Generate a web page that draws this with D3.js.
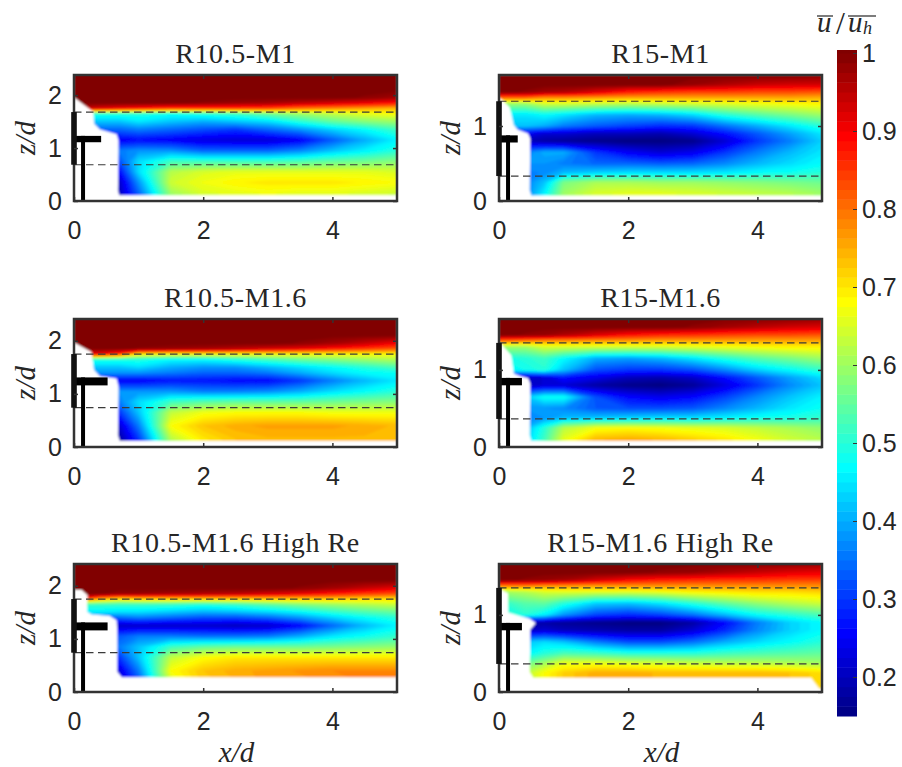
<!DOCTYPE html>
<html>
<head>
<meta charset="utf-8">
<script src="https://cdnjs.cloudflare.com/ajax/libs/d3/7.8.5/d3.min.js"></script>
<style>
    html, body { margin: 0; padding: 0; background: #fff; }
    svg { display: block; }
    text { fill: #262626; }
    .num { font-family: "Liberation Sans", Arial, sans-serif; font-size: 25px; }
    .title { font-family: "Liberation Serif", serif; font-size: 28px; letter-spacing: 0.6px; }
    .lab { font-family: "Liberation Serif", serif; font-style: italic; font-size: 29px; }
</style>
</head>
<body>
<svg id="chart" width="902" height="767"></svg>
<script>
//-------------------
// DATA
//-------------------
var panelTitles = ["R10.5-M1", "R15-M1", "R10.5-M1.6", "R15-M1.6", "R10.5-M1.6 High Re", "R15-M1.6 High Re"];
var xTicks = [0, 2, 4];
var yTicksLeft = [0, 1, 2];
var yTicksRight = [0, 1];
var barTicks = [0.2, 0.3, 0.4, 0.5, 0.6, 0.7, 0.8, 0.9, 1];

var xStations = [0, 0.4, 0.7, 1, 1.5, 2, 2.5, 3, 3.5, 4, 4.5, 5];
var zRowsA = [2.42, 2.1, 1.95, 1.85, 1.75, 1.65, 1.5, 1.35, 1.15, 0.95, 0.75, 0.55, 0.35, 0.15, 0];
var zRowsB = [2.42, 2.1, 1.95, 1.85, 1.75, 1.65, 1.5, 1.4, 1.25, 1.05, 0.85, 0.65, 0.4, 0.15, 0];
var zRowsR = [1.68, 1.55, 1.45, 1.38, 1.3, 1.15, 1, 0.9, 0.8, 0.65, 0.5, 0.38, 0.25, 0.1, 0];

var fieldR105M1 = [
    [1, 1, 1, 1, 1, 1, 1, 1, 1, 1, 1, 1],
    [1, 1, 1, 1, 1, 1, 1, 1, 1, 1, 1, 1],
    [1, 1, 1, 1, 1, 1, 1, 1, 1, 1, .99, .97],
    [1, 1, 1, 1, 1, .99, .98, .97, .95, .93, .91, .88],
    [.95, .92, .9, .88, .85, .85, .85, .84, .8, .78, .76, .74],
    [.5, .5, .5, .5, .48, .5, .52, .56, .6, .63, .66, .68],
    [.42, .42, .42, .45, .42, .4, .42, .44, .5, .55, .58, .6],
    [.34, .34, .34, .36, .34, .32, .3, .34, .38, .43, .47, .52],
    [.25, .25, .25, .26, .25, .23, .22, .22, .25, .33, .4, .46],
    [.36, .36, .36, .38, .38, .34, .34, .34, .37, .42, .46, .5],
    [.32, .32, .32, .44, .52, .52, .52, .52, .53, .55, .56, .58],
    [.26, .26, .26, .44, .62, .65, .66, .66, .66, .66, .66, .65],
    [.21, .21, .21, .38, .64, .67, .69, .7, .7, .7, .69, .68],
    [.21, .21, .2, .34, .6, .65, .66, .67, .66, .66, .65, .64],
    [.21, .21, .2, .34, .6, .65, .66, .67, .66, .66, .65, .64]
];
var fieldR15M1 = [
    [1, 1, 1, 1, 1, 1, 1, 1, 1, 1, 1, .99],
    [1, 1, 1, 1, 1, 1, 1, .98, .96, .94, .93, .93],
    [1, .99, .97, .96, .92, .87, .85, .84, .84, .83, .83, .82],
    [.82, .82, .78, .78, .77, .76, .76, .76, .76, .76, .76, .75],
    [.6, .6, .65, .65, .64, .63, .64, .65, .66, .67, .68, .69],
    [.45, .45, .47, .45, .41, .4, .41, .44, .5, .54, .57, .6],
    [.42, .42, .4, .36, .33, .31, .29, .3, .35, .4, .45, .5],
    [.25, .25, .22, .22, .2, .2, .19, .22, .27, .33, .39, .45],
    [.2, .2, .18, .17, .16, .15, .15, .16, .22, .3, .36, .43],
    [.36, .36, .4, .4, .3, .25, .22, .24, .3, .36, .41, .45],
    [.38, .38, .38, .36, .34, .34, .33, .34, .37, .41, .44, .47],
    [.36, .36, .37, .41, .43, .44, .44, .44, .45, .47, .48, .5],
    [.36, .36, .42, .57, .61, .61, .6, .6, .59, .58, .57, .56],
    [.36, .36, .46, .6, .65, .66, .66, .65, .64, .63, .62, .6],
    [.36, .36, .46, .6, .65, .66, .66, .65, .64, .63, .62, .6]
];
var fieldR105M16 = [
    [1, 1, 1, 1, 1, 1, 1, 1, 1, 1, 1, 1],
    [1, 1, 1, 1, 1, 1, 1, 1, 1, 1, 1, 1],
    [1, 1, 1, 1, 1, 1, 1, 1, .99, .97, .94, .9],
    [1, 1, 1, .99, .98, .97, .95, .93, .91, .88, .85, .82],
    [.9, .9, .85, .7, .68, .68, .68, .68, .68, .68, .68, .68],
    [.5, .5, .5, .5, .47, .47, .5, .53, .56, .58, .6, .62],
    [.42, .42, .42, .44, .4, .38, .38, .41, .44, .47, .5, .53],
    [.38, .38, .38, .38, .36, .34, .34, .36, .4, .44, .47, .48],
    [.26, .26, .25, .25, .27, .27, .26, .26, .3, .36, .41, .45],
    [.36, .36, .38, .38, .38, .36, .36, .37, .4, .44, .47, .5],
    [.33, .33, .36, .44, .52, .54, .55, .55, .55, .56, .57, .58],
    [.3, .3, .3, .42, .63, .67, .68, .68, .68, .67, .67, .67],
    [.2, .2, .22, .36, .68, .73, .75, .76, .76, .76, .75, .74],
    [.18, .18, .18, .3, .62, .7, .73, .74, .74, .74, .74, .73],
    [.18, .18, .18, .3, .62, .7, .73, .74, .74, .74, .74, .73]
];
var fieldR15M16 = [
    [1, 1, 1, 1, 1, 1, 1, 1, 1, 1, 1, .99],
    [1, 1, 1, 1, 1, 1, 1, .99, .97, .95, .93, .92],
    [1, .99, .98, .96, .92, .88, .86, .85, .84, .83, .83, .82],
    [.82, .8, .78, .78, .77, .77, .76, .76, .76, .76, .76, .76],
    [.6, .6, .65, .65, .65, .65, .65, .66, .67, .68, .69, .69],
    [.48, .5, .52, .47, .4, .39, .41, .45, .5, .54, .57, .6],
    [.46, .48, .5, .42, .32, .3, .3, .32, .37, .43, .47, .51],
    [.22, .2, .22, .27, .24, .2, .19, .21, .27, .33, .39, .44],
    [.2, .2, .22, .22, .18, .16, .15, .17, .23, .3, .37, .42],
    [.42, .42, .48, .48, .32, .26, .24, .26, .31, .37, .42, .46],
    [.38, .38, .38, .37, .33, .32, .32, .33, .37, .41, .45, .48],
    [.37, .37, .38, .41, .42, .43, .44, .44, .46, .48, .49, .51],
    [.4, .4, .5, .62, .67, .68, .67, .66, .65, .63, .61, .59],
    [.42, .42, .52, .66, .74, .75, .74, .72, .7, .67, .64, .62],
    [.42, .42, .52, .66, .74, .75, .74, .72, .7, .67, .64, .62]
];
var fieldR105HighRe = [
    [1, 1, 1, 1, 1, 1, 1, 1, 1, 1, 1, 1],
    [1, 1, 1, 1, 1, 1, 1, 1, 1, 1, 1, 1],
    [1, 1, 1, 1, 1, 1, 1, 1, .99, .97, .94, .91],
    [1, 1, .98, .98, .97, .96, .95, .93, .91, .88, .85, .83],
    [.9, .75, .7, .72, .72, .72, .72, .72, .72, .72, .71, .7],
    [.52, .52, .52, .52, .52, .5, .52, .55, .58, .6, .62, .64],
    [.45, .45, .44, .44, .42, .4, .41, .43, .46, .5, .53, .55],
    [.34, .34, .34, .36, .34, .32, .32, .34, .38, .43, .47, .5],
    [.22, .22, .21, .21, .21, .21, .2, .21, .26, .34, .41, .46],
    [.33, .33, .33, .36, .36, .35, .35, .36, .4, .45, .48, .51],
    [.34, .34, .36, .42, .52, .55, .56, .56, .56, .57, .58, .59],
    [.3, .3, .3, .42, .63, .68, .7, .7, .7, .7, .7, .7],
    [.22, .22, .23, .36, .68, .73, .75, .76, .77, .78, .78, .78],
    [.2, .2, .2, .32, .64, .72, .74, .76, .76, .77, .78, .78],
    [.2, .2, .2, .32, .64, .72, .74, .76, .76, .77, .78, .78]
];
var fieldR15HighRe = [
    [1, 1, 1, 1, 1, 1, 1, 1, 1, 1, 1, .99],
    [1, 1, 1, 1, 1, 1, .99, .98, .96, .94, .92, .91],
    [1, .99, .98, .97, .93, .89, .87, .86, .85, .85, .84, .84],
    [.8, .8, .78, .78, .77, .78, .78, .78, .78, .78, .78, .78],
    [.6, .62, .65, .66, .66, .66, .67, .69, .7, .71, .71, .72],
    [.5, .54, .55, .5, .43, .42, .45, .5, .55, .59, .62, .64],
    [.5, .5, .46, .38, .31, .29, .31, .35, .41, .47, .5, .53],
    [.18, .18, .18, .17, .16, .15, .15, .18, .26, .36, .43, .47],
    [.2, .2, .22, .2, .19, .18, .18, .22, .29, .37, .43, .47],
    [.42, .42, .44, .42, .36, .32, .32, .35, .4, .44, .47, .5],
    [.46, .46, .5, .53, .52, .5, .5, .5, .52, .53, .54, .55],
    [.55, .55, .6, .66, .66, .65, .64, .63, .62, .62, .61, .6],
    [.62, .62, .68, .72, .75, .75, .74, .74, .74, .74, .73, .71],
    [.62, .62, .68, .72, .75, .75, .74, .74, .74, .74, .73, .71],
    [.62, .62, .68, .72, .75, .75, .74, .74, .74, .74, .73, .71]
];

// outline of the region with no measurement, [x/d, z/d]
var maskR105M1 = [[0, 1.95], [0.03, 1.93], [0.3, 1.68], [0.31, 1.46], [0.4, 1.35], [0.66, 1.26], [0.69, 1.14], [0.68, 0.2], [0.7, 0.107], [5.1, 0.107], [5.1, 0], [0, 0]];
var maskR15M1 = [[0, 1.37], [0.03, 1.36], [0.165, 1.25], [0.23, 1.01], [0.29, 0.95], [0.45, 0.9], [0.485, 0.83], [0.475, 0.14], [0.5, 0.075], [5.1, 0.075], [5.1, 0], [0, 0]];
var maskR105M16 = [[0, 1.96], [0.03, 1.95], [0.27, 1.79], [0.31, 1.45], [0.4, 1.33], [0.66, 1.29], [0.69, 1.13], [0.68, 0.22], [0.71, 0.113], [5.1, 0.113], [5.1, 0], [0, 0]];
var maskR15M16 = [[0, 1.35], [0.03, 1.34], [0.19, 1.19], [0.23, 0.95], [0.32, 0.92], [0.45, 0.89], [0.485, 0.82], [0.475, 0.15], [0.5, 0.078], [5.1, 0.078], [5.1, 0], [0, 0]];
var maskR105HighRe = [[0, 1.92], [0.12, 1.92], [0.21, 1.82], [0.2, 1.51], [0.27, 1.46], [0.55, 1.43], [0.66, 1.35], [0.67, 1.13], [0.67, 0.38], [0.74, 0.277], [5.1, 0.277], [5.1, 0], [0, 0]];
var maskR15HighRe = [[0, 1.34], [0.14, 1.28], [0.14, 1.03], [0.32, 0.987], [0.475, 0.95], [0.57, 0.896], [0.485, 0.81], [0.475, 0.26], [0.53, 0.186], [4.83, 0.186], [4.96, 0.043], [5.1, 0.043], [5.1, 0], [0, 0]];

// turbine per panel: rotor bottom, rotor top, nacelle end, nacelle bottom, nacelle top
var rotorLow = [0.685, 0.333, 0.74, 0.364, 0.74, 0.364];
var rotorHigh = [1.68, 1.33, 1.75, 1.35, 1.75, 1.35];
var nacelleEnd = [0.42, 0.29, 0.52, 0.355, 0.52, 0.355];
var nacelleLow = [1.11, 0.78, 1.16, 0.8, 1.16, 0.8];
var nacelleHigh = [1.23, 0.875, 1.31, 0.896, 1.31, 0.896];
var towerX = 0.14;

var yMaxes = [2.38, 1.68, 2.41, 1.66, 2.41, 1.66];
var zRowsByPanel = [zRowsA, zRowsR, zRowsB, zRowsR, zRowsB, zRowsR];
var fields = [fieldR105M1, fieldR15M1, fieldR105M16, fieldR15M16, fieldR105HighRe, fieldR15HighRe];
var masks = [maskR105M1, maskR15M1, maskR105M16, maskR15M16, maskR105HighRe, maskR15HighRe];

//-------------------
// GLOBAL VARIABLES
//-------------------
var svg = d3.select("#chart");
var colLeft = [74, 499], colRight = [397, 822];
var rowTop = [75, 319, 564], rowBottom = [201, 447, 692];
var frameColor = "#333";

var levels = d3.range(0.13, 1.0, 0.0125);
var jet = d3.scaleLinear()
    .domain([0, 0.125, 0.375, 0.625, 0.875, 1].map(t => 0.15 + t * 0.85))
    .range(["#000080", "#0000ff", "#00ffff", "#ffff00", "#ff0000", "#800000"])
    .clamp(true);

var defs = svg.append("defs");
defs.append("filter").attr("id", "soft")
    .attr("x", "-2%").attr("y", "-2%").attr("width", "104%").attr("height", "104%")
    .append("feGaussianBlur").attr("stdDeviation", 0.8);

//-------------------
// PANELS
//-------------------
panelTitles.forEach((title, i) => drawPanel(title, i));

function drawPanel(title, i) {
    var col = i % 2, row = Math.floor(i / 2);
    var left = colLeft[col], right = colRight[col], top = rowTop[row], bottom = rowBottom[row];

    var x = d3.scaleLinear().domain([0, 5]).range([left, right]);
    var y = d3.scaleLinear().domain([0, yMaxes[i]]).range([bottom, top]);

    var zRows = zRowsByPanel[i];
    var xIndex = d3.scaleLinear().domain(d3.range(xStations.length)).range(xStations).clamp(true);
    var zIndex = d3.scaleLinear().domain(d3.range(zRows.length)).range(zRows).clamp(true);

    // contour grid is in index space, values sit at i + 0.5
    var toScreen = d3.geoTransform({
        point: function (px, py) {
            this.stream.point(x(xIndex(px - 0.5)), y(zIndex(py - 0.5)));
        }
    });
    var path = d3.geoPath(toScreen);

    var contours = d3.contours()
        .size([xStations.length, zRows.length])
        .smooth(true)
        .thresholds(levels);

    var g = svg.append("g");

    defs.append("clipPath").attr("id", "clip" + i)
        .append("rect")
        .attr("x", left).attr("y", top)
        .attr("width", right - left).attr("height", bottom - top);

    var field = g.append("g").attr("clip-path", "url(#clip" + i + ")")
        .append("g").attr("filter", "url(#soft)");

    field.selectAll("path.level")
        .data(contours(fields[i].flat()))
        .enter()
        .append("path")
        .attr("class", "level")
        .attr("d", path)
        .attr("fill", d => jet(d.value + 0.00625));

    field.append("path")
        .attr("d", d3.line().x(d => x(d[0])).y(d => y(d[1]))(masks[i]) + "Z")
        .attr("fill", "#fff");

    // dashed rotor top and bottom lines
    [rotorLow[i], rotorHigh[i]].forEach(z => {
        g.append("line")
            .attr("x1", x(0)).attr("x2", x(5))
            .attr("y1", y(z)).attr("y2", y(z))
            .attr("stroke", "#3a3a3a").attr("stroke-width", 1.2)
            .attr("stroke-dasharray", "7.5,4.5");
    });

    // turbine
    g.append("rect")
        .attr("x", x(towerX) - 2).attr("width", 4)
        .attr("y", y(nacelleHigh[i])).attr("height", y(0) - y(nacelleHigh[i]))
        .attr("fill", "#000");
    g.append("rect")
        .attr("x", x(0)).attr("width", x(nacelleEnd[i]) - x(0))
        .attr("y", y(nacelleHigh[i])).attr("height", y(nacelleLow[i]) - y(nacelleHigh[i]))
        .attr("fill", "#000");

    // frame
    g.append("rect")
        .attr("x", left).attr("y", top)
        .attr("width", right - left).attr("height", bottom - top)
        .attr("fill", "none").attr("stroke", frameColor).attr("stroke-width", 2.5);

    g.append("rect")
        .attr("x", x(0) - 2.8).attr("width", 5.6)
        .attr("y", y(rotorHigh[i])).attr("height", y(rotorLow[i]) - y(rotorHigh[i]))
        .attr("fill", "#111");

    // axes
    var yTicks = col === 0 ? yTicksLeft : yTicksRight;
    var axes = [
        [d3.axisBottom(x).tickValues(xTicks).tickSize(-4).tickPadding(20).tickFormat(d3.format("d")), 0, bottom],
        [d3.axisLeft(y).tickValues(yTicks).tickSize(-4).tickPadding(12).tickFormat(d3.format("d")), left, 0],
        [d3.axisTop(x).tickValues(xTicks).tickSize(-4).tickFormat(""), 0, top],
        [d3.axisRight(y).tickValues(yTicks).tickSize(-4).tickFormat(""), right, 0]
    ];
    axes.forEach(a => {
        var ag = g.append("g").attr("transform", "translate(" + a[1] + "," + a[2] + ")").call(a[0]);
        ag.select(".domain").remove();
        ag.selectAll("line").attr("stroke", frameColor).attr("stroke-width", 1.5);
        ag.selectAll("text").attr("class", "num");
        ag.attr("font-size", null).attr("font-family", null);
    });

    g.append("text").attr("class", "title")
        .attr("x", (left + right) / 2).attr("y", top - 12)
        .attr("text-anchor", "middle")
        .text(title);

    g.append("text").attr("class", "lab")
        .attr("transform", "translate(" + (left - 39) + "," + ((top + bottom) / 2) + ") rotate(-90)")
        .attr("text-anchor", "middle")
        .text("z/d");

    if (row === 2) {
        g.append("text").attr("class", "lab")
            .attr("x", (left + right) / 2 + 1).attr("y", 762)
            .attr("text-anchor", "middle")
            .text("x/d");
    }
}

//-------------------
// COLORBAR
//-------------------
var barScale = d3.scaleLinear().domain([0.15, 1]).range([716, 53]);
var barG = svg.append("g");

barG.selectAll("rect")
    .data(d3.range(0.15, 1, 0.0125))
    .enter()
    .append("rect")
    .attr("x", 837).attr("width", 20)
    .attr("y", d => barScale(d + 0.0125))
    .attr("height", d => barScale(d) - barScale(d + 0.0125) + 0.5)
    .attr("fill", d => jet(d + 0.00625));

barG.append("rect")
    .attr("x", 837).attr("y", 50).attr("width", 20).attr("height", 3.5)
    .attr("fill", jet(1));

var barAxis = barG.append("g")
    .attr("transform", "translate(857,0)")
    .call(d3.axisRight(barScale).tickValues(barTicks).tickSize(-4).tickPadding(5)
        .tickFormat(d => d === 1 ? "1" : d3.format(".1f")(d)));
barAxis.select(".domain").remove();
barAxis.selectAll("line").attr("stroke", "#333").attr("stroke-width", 1);
barAxis.selectAll("text").attr("class", "num");
barAxis.attr("font-size", null).attr("font-family", null);

// colorbar title, the bars over u and u_h are separate lines
var barLabel = svg.append("g");
barLabel.append("text").attr("class", "lab").attr("x", 817).attr("y", 32).text("u");
barLabel.append("text").attr("class", "lab").attr("x", 836).attr("y", 34).style("font-style", "normal").style("font-size", "32px").text("/");
barLabel.append("text").attr("class", "lab").attr("x", 848).attr("y", 32).text("u");
barLabel.append("text").attr("class", "lab").attr("x", 863).attr("y", 34).style("font-size", "18px").text("h");
barLabel.selectAll("line")
    .data([[817, 833], [848, 876]])
    .enter()
    .append("line")
    .attr("x1", d => d[0]).attr("x2", d => d[1])
    .attr("y1", 16).attr("y2", 16)
    .attr("stroke", "#262626").attr("stroke-width", 1.2);
</script>
</body>
</html>
